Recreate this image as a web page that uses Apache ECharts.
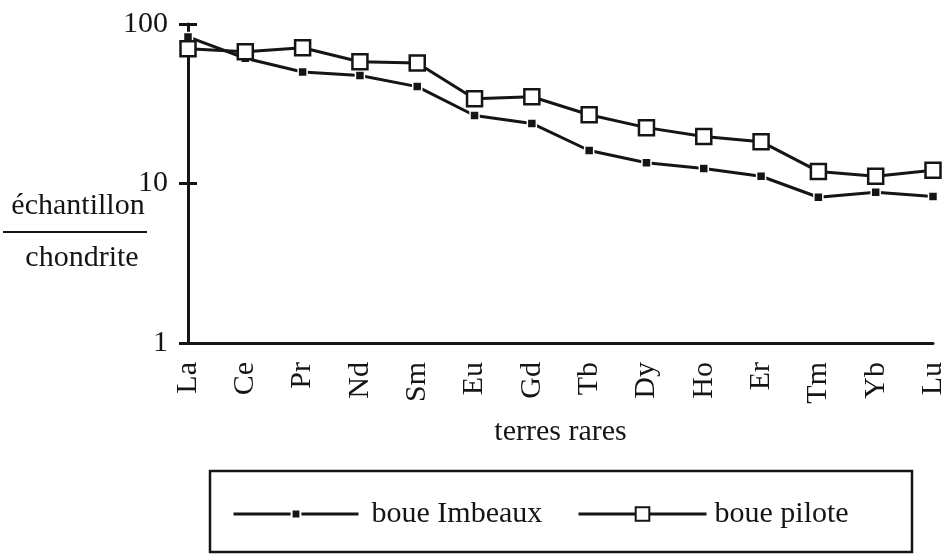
<!DOCTYPE html>
<html>
<head>
<meta charset="utf-8">
<title>Terres rares normalisées aux chondrites</title>
<script src="https://cdn.jsdelivr.net/npm/echarts@6/dist/echarts.min.js"></script>
<style>
  html, body { margin: 0; padding: 0; background: #ffffff; }
  #chart { width: 948px; height: 554px; }
</style>
</head>
<body>
<div id="chart"></div>
<script>
// Rare earth elements, in order of atomic number
const elements = ['La', 'Ce', 'Pr', 'Nd', 'Sm', 'Eu', 'Gd', 'Tb', 'Dy', 'Ho', 'Er', 'Tm', 'Yb', 'Lu'];

// Sample / chondrite ratios
const boueImbeaux = [83, 61, 50, 47.5, 40.5, 26.7, 23.8, 16.1, 13.5, 12.4, 11.1, 8.2, 8.8, 8.3];
const bouePilote  = [70, 67, 71, 58, 57, 34, 35, 27, 22.4, 19.7, 18.3, 11.9, 11.1, 12.1];

// Decades shown on the log axis
const yTicks = [1, 10, 100];

const ink = '#151515';
const serif = '"Liberation Serif", "Times New Roman", Times, serif';
const fs = 30;

const chart = echarts.init(document.getElementById('chart'), null, { renderer: 'canvas' });

chart.setOption({
  backgroundColor: '#ffffff',
  animation: false,
  textStyle: { fontFamily: serif, color: ink },
  grid: { left: 188, right: 11, top: 24, bottom: 211, containLabel: false },
  xAxis: {
    type: 'category',
    data: elements,
    boundaryGap: false,
    name: 'terres rares',
    nameLocation: 'middle',
    nameGap: 74,
    nameTextStyle: { fontFamily: serif, fontSize: fs, color: ink },
    axisLine: { show: true, lineStyle: { color: ink, width: 3 } },
    axisTick: { show: false },
    axisLabel: { rotate: 90, margin: 19, fontFamily: serif, fontSize: fs, color: ink, interval: 0 },
    splitLine: { show: false }
  },
  yAxis: [
    {
      type: 'log',
      logBase: 10,
      min: yTicks[0],
      max: yTicks[yTicks.length - 1],
      position: 'left',
      axisLine: { show: true, onZero: false, lineStyle: { color: ink, width: 3 } },
      axisTick: { show: true, inside: false, length: 9, lineStyle: { color: ink, width: 3 } },
      axisLabel: {
        margin: 20, fontFamily: serif, fontSize: fs, color: ink,
        formatter: v => (yTicks.indexOf(Math.round(v)) >= 0 ? String(Math.round(v)) : '')
      },
      splitLine: { show: false },
      minorTick: { show: false }
    },
    {
      // inner half of the crossing ticks
      type: 'log',
      logBase: 10,
      min: yTicks[0],
      max: yTicks[yTicks.length - 1],
      position: 'left',
      offset: 0,
      axisLine: { show: false },
      axisTick: { show: true, inside: true, length: 9, lineStyle: { color: ink, width: 3 } },
      axisLabel: { show: false },
      splitLine: { show: false }
    }
  ],
  legend: [
    {
      data: [{ name: 'boue Imbeaux' }],
      left: 232,
      top: 499,
      padding: 0,
      itemWidth: 125,
      itemHeight: 11,
      lineStyle: { width: 3, color: ink },
      textStyle: { fontFamily: serif, fontSize: fs, color: ink, padding: [0, 0, 0, 8] },
      selectedMode: false
    },
    {
      data: [{ name: 'boue pilote' }],
      left: 577,
      top: 499,
      padding: 0,
      itemWidth: 128,
      itemHeight: 17,
      lineStyle: { width: 3, color: ink },
      textStyle: { fontFamily: serif, fontSize: fs, color: ink, padding: [0, 0, 0, 3] },
      selectedMode: false
    }
  ],
  graphic: [
    {
      type: 'text',
      style: { text: 'échantillon', x: 78, y: 206, textAlign: 'center', textVerticalAlign: 'middle', font: fs + 'px ' + serif, fill: ink }
    },
    {
      type: 'rect',
      shape: { x: 3, y: 231, width: 144, height: 2 },
      style: { fill: ink }
    },
    {
      type: 'text',
      style: { text: 'chondrite', x: 82, y: 258, textAlign: 'center', textVerticalAlign: 'middle', font: fs + 'px ' + serif, fill: ink }
    },
    {
      type: 'rect',
      shape: { x: 210, y: 471, width: 702, height: 81 },
      style: { fill: 'none', stroke: ink, lineWidth: 2.5 }
    }
  ],
  series: [
    {
      name: 'boue Imbeaux',
      type: 'line',
      data: boueImbeaux,
      symbol: 'rect',
      symbolSize: 9,
      showAllSymbol: true,
      lineStyle: { color: ink, width: 3 },
      itemStyle: { color: ink, borderColor: '#ffffff', borderWidth: 1.5 },
      z: 2
    },
    {
      name: 'boue pilote',
      type: 'line',
      data: bouePilote,
      symbol: 'rect',
      symbolSize: 15,
      showAllSymbol: true,
      lineStyle: { color: ink, width: 3 },
      itemStyle: { color: '#ffffff', borderColor: ink, borderWidth: 2.5 },
      z: 3
    }
  ]
});
</script>
</body>
</html>
